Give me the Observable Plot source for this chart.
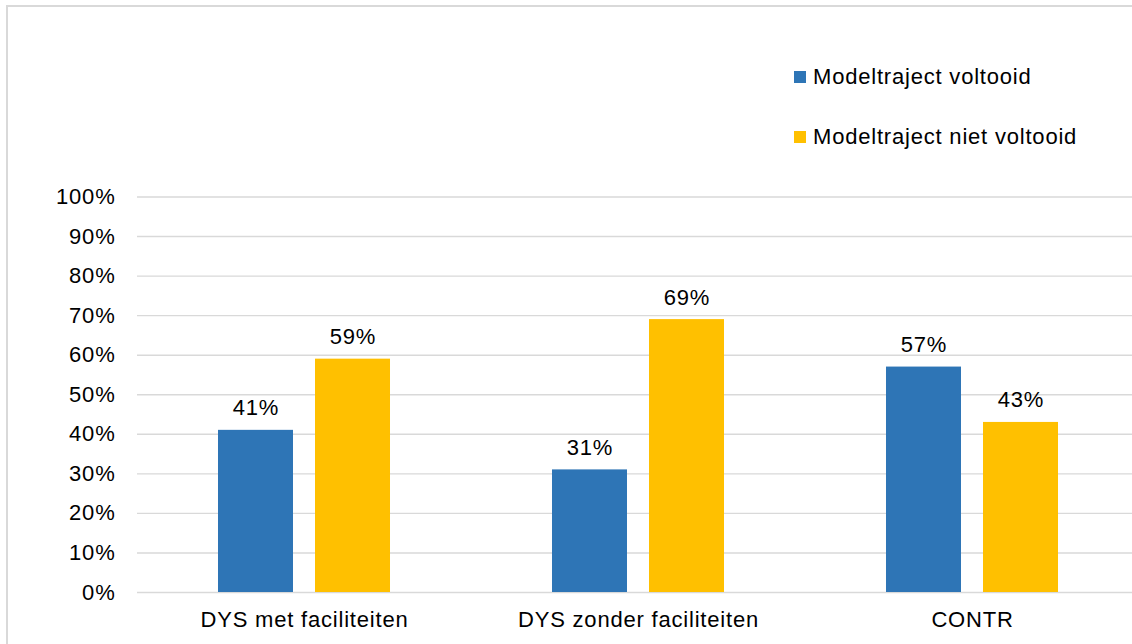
<!DOCTYPE html>
<html>
<head>
<meta charset="utf-8">
<script src="https://cdn.jsdelivr.net/npm/d3@7"></script>
<script src="https://cdn.jsdelivr.net/npm/@observablehq/plot@0.6"></script>
<style>
  html, body { margin: 0; padding: 0; width: 1132px; height: 644px; overflow: hidden; background: #fff; }
  #frame { position: absolute; left: 6px; top: 5px; width: 1200px; height: 700px; border: 2px solid #d9d9d9; }
  #chart { position: absolute; left: 0; top: 0; }
  .legend { position: absolute; left: 794px; font-family: "Liberation Sans", Arial, sans-serif; font-size: 22px; letter-spacing: 0.8px; color: #000; }
  .legend .row { position: absolute; left: 0; display: flex; align-items: center; white-space: nowrap; }
  .legend .sw { width: 12px; height: 12px; margin-right: 7px; }
</style>
</head>
<body>
<div id="frame"></div>
<div id="chart"></div>
<div class="legend" id="legend"></div>
<script>
const categories = ["DYS met faciliteiten", "DYS zonder faciliteiten", "CONTR"];
const seriesNames = ["Modeltraject voltooid", "Modeltraject niet voltooid"];
const voltooid = [0.41, 0.31, 0.57];
const nietVoltooid = [0.59, 0.69, 0.43];
const seriesColors = ["#2E75B6", "#FFC000"];
const yTicks = [0, 0.1, 0.2, 0.3, 0.4, 0.5, 0.6, 0.7, 0.8, 0.9, 1.0];

const data = [];
categories.forEach((c, i) => {
  data.push({cat: c, series: seriesNames[0], value: voltooid[i]});
  data.push({cat: c, series: seriesNames[1], value: nietVoltooid[i]});
});

const font = "'Liberation Sans', Arial, sans-serif";

const chart = Plot.plot({
  width: 1139,
  height: 644,
  marginTop: 196.5,
  marginBottom: 52,
  marginLeft: 137,
  marginRight: 0,
  style: {fontFamily: font, fontSize: "22px", letterSpacing: "0.8px", color: "#000", background: "transparent", overflow: "visible", maxWidth: "none"},
  fx: {domain: categories, padding: 0, label: null, axis: "bottom", tickSize: 0, tickPadding: 19},
  x: {domain: seriesNames, paddingInner: 0.2268, paddingOuter: 0.835, axis: null, round: false},
  y: {domain: [0, 1], ticks: yTicks, tickFormat: d3.format(".0%"), tickSize: 0, tickPadding: 22, label: null},
  color: {domain: seriesNames, range: seriesColors},
  marks: [
    Plot.ruleY(yTicks, {stroke: "#d9d9d9", strokeWidth: 1.4}),
    Plot.barY(data, {fx: "cat", x: "series", y: "value", fill: "series"}),
    Plot.text(data, {fx: "cat", x: "series", y: "value", text: d => Math.round(d.value * 100) + "%", lineAnchor: "bottom", dy: -15, fill: "#000", fontSize: 22})
  ]
});
document.getElementById("chart").appendChild(chart);

const legend = document.getElementById("legend");
const rowTops = [64, 124];
seriesNames.forEach((s, i) => {
  const row = document.createElement("div");
  row.className = "row";
  row.style.top = rowTops[i] + "px";
  const sw = document.createElement("div");
  sw.className = "sw";
  sw.style.background = seriesColors[i];
  const t = document.createElement("span");
  t.textContent = s;
  row.appendChild(sw);
  row.appendChild(t);
  legend.appendChild(row);
});
</script>
</body>
</html>
